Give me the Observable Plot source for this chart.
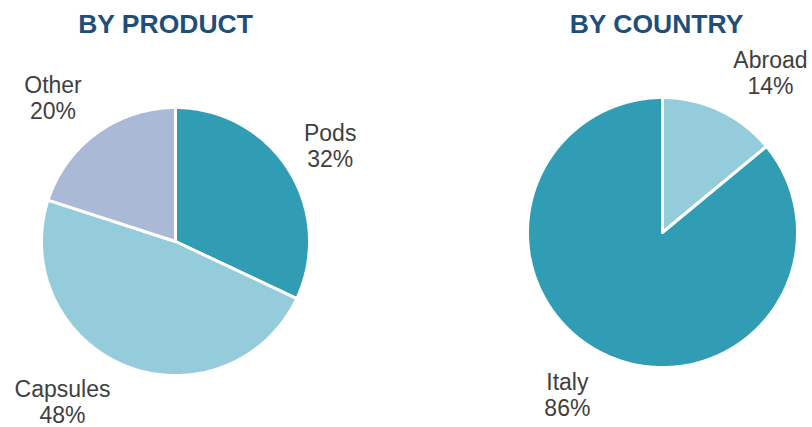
<!DOCTYPE html>
<html>
<head>
<meta charset="utf-8">
<script src="https://cdn.jsdelivr.net/npm/d3@7"></script>
<script src="https://cdn.jsdelivr.net/npm/@observablehq/plot@0.6"></script>
<style>
  html, body { margin: 0; padding: 0; background: #ffffff; }
  #chart svg { display: block; }
</style>
</head>
<body>
<div id="chart"></div>
<script>
// ---- Data ----
const productCategories = ["Pods", "Capsules", "Other"];
const productShares = [32, 48, 20];
const countryCategories = ["Abroad", "Italy"];
const countryShares = [14, 86];
const titles = ["BY PRODUCT", "BY COUNTRY"];

// ---- Styles / layout ----
const W = 812, H = 427;
const colorMap = {Pods: "#319db4", Capsules: "#95ccdc", Other: "#aab9d6", Abroad: "#95ccdc", Italy: "#319db4"};
const pies = [
  {title: titles[0], cats: productCategories, vals: productShares, cx: 175, cy: 241, r: 134, titleX: 165},
  {title: titles[1], cats: countryCategories, vals: countryShares, cx: 662, cy: 232, r: 135, titleX: 656}
];
// label placement: [angle shift in degrees from slice mid-angle, distance from centre]
const labelNudge = {Pods: [0.6, 182], Capsules: [13.6, 196], Other: [-4.4, 189], Abroad: [8.8, 193], Italy: [5.2, 188]};

const slicePts = [];
const labels = [];
const titleRows = [];
pies.forEach((p, pi) => {
  const total = d3.sum(p.vals);
  let start = 0;
  titleRows.push({x: p.titleX, y: 24, text: p.title});
  p.cats.forEach((c, i) => {
    const a0 = start / total * 2 * Math.PI;
    const a1 = (start + p.vals[i]) / total * 2 * Math.PI;
    start += p.vals[i];
    const key = pi + "-" + c;
    slicePts.push({key, c, x: p.cx, y: p.cy});
    const n = Math.max(2, Math.ceil((a1 - a0) / (Math.PI / 360)));
    for (let k = 0; k <= n; k++) {
      const a = a0 + (a1 - a0) * k / n;
      slicePts.push({key, c, x: p.cx + p.r * Math.sin(a), y: p.cy - p.r * Math.cos(a)});
    }
    slicePts.push({key, c, x: p.cx, y: p.cy});
    const [shift, dist] = labelNudge[c];
    const am = (a0 + a1) / 2 + shift * Math.PI / 180;
    labels.push({x: p.cx + dist * Math.sin(am), y: p.cy - dist * Math.cos(am), text: c + "\n" + p.vals[i] + "%"});
  });
});

const chart = Plot.plot({
  width: W,
  height: H,
  margin: 0,
  x: {domain: [0, W], range: [0, W], axis: null},
  y: {domain: [0, H], range: [0, H], axis: null},
  color: {type: "identity"},
  style: {fontFamily: "'Liberation Sans', Arial, sans-serif", background: "#ffffff"},
  marks: [
    Plot.line(slicePts, {
      x: "x", y: "y", z: "key",
      fill: d => colorMap[d.c],
      stroke: "#ffffff", strokeWidth: 3, strokeLinejoin: "miter", curve: "linear"
    }),
    Plot.text(labels, {
      x: "x", y: "y", text: "text",
      fontSize: 23, lineHeight: 1.13, fill: "#404040", textAnchor: "middle"
    }),
    Plot.text(titleRows, {
      x: "x", y: "y", text: "text",
      fontSize: 26.5, fontWeight: "bold", fill: "#1f4e79", textAnchor: "middle"
    })
  ]
});
document.getElementById("chart").appendChild(chart);
</script>
</body>
</html>
